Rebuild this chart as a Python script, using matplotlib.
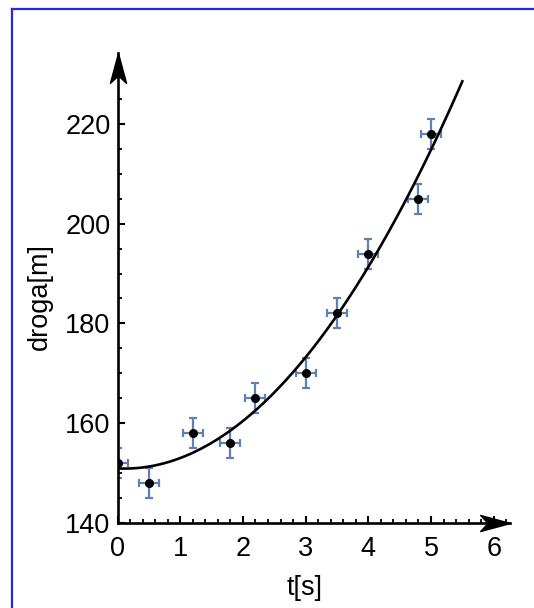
import numpy as np
import matplotlib
matplotlib.use("Agg")
import matplotlib.pyplot as plt
from matplotlib.path import Path
from matplotlib.lines import Line2D
from matplotlib.ticker import MultipleLocator

plt.rcParams['font.family'] = ['Liberation Sans', 'DejaVu Sans']

# measured points
t = [0.0, 0.5, 1.2, 1.8, 2.2, 3.0, 3.5, 4.0, 4.8, 5.0]
droga = [152, 148, 158, 156, 165, 170, 182, 194, 205, 218]
t_err = 0.16
droga_err = 3.0

x_ticks = [0, 1, 2, 3, 4, 5, 6]
y_ticks = [140, 160, 180, 200, 220]

err_color = (94/255, 129/255, 181/255)
border_color = (40/255, 40/255, 225/255)

# quadratic fit, like Fit[data, {1, t, t^2}, t]
coef = np.polyfit(t, droga, 2)
t_fit = np.linspace(0, 5.5, 200)
s_fit = np.polyval(coef, t_fit)

fig = plt.figure(figsize=(5.34, 6.08), dpi=100)
ax = fig.add_axes([117.5/534, 85/608, (510-117.5)/534, (555-85)/608])

ax.plot(t_fit, s_fit, color='black', lw=1.9, zorder=3)
ax.errorbar(t, droga, xerr=t_err, yerr=droga_err, fmt='none', ecolor=err_color,
            elinewidth=1.6, capsize=3, capthick=1.6, zorder=2)
ax.plot(t, droga, 'o', color='black', markersize=5.5, zorder=4)

ax.set_xlim(0, 6.26)
ax.set_ylim(140, 234.2)

for side in ['top', 'right']:
    ax.spines[side].set_visible(False)
for side in ['left', 'bottom']:
    ax.spines[side].set_linewidth(1.9)

ax.set_xticks(x_ticks)
ax.set_yticks(y_ticks)
ax.xaxis.set_minor_locator(MultipleLocator(0.2))
ax.yaxis.set_minor_locator(MultipleLocator(5))
ax.tick_params(axis='both', which='major', direction='in', length=5, width=1.5,
               labelsize=19.5)
ax.tick_params(axis='both', which='minor', direction='in', length=3, width=1.3)
ax.tick_params(axis='x', which='major', pad=9)
ax.tick_params(axis='y', which='major', pad=5)

# arrow heads at the ends of the axes
head_right = Path([(0, 0), (-1, 0.27), (-0.75, 0), (-1, -0.27), (0, 0)],
                  [Path.MOVETO, Path.LINETO, Path.LINETO, Path.LINETO, Path.CLOSEPOLY])
head_up = Path([(0, 0), (0.27, -1), (0, -0.75), (-0.27, -1), (0, 0)],
               [Path.MOVETO, Path.LINETO, Path.LINETO, Path.LINETO, Path.CLOSEPOLY])
ax.plot(1, 0, marker=head_right, markersize=43, color='black',
        transform=ax.transAxes, clip_on=False)
ax.plot(0, 1, marker=head_up, markersize=43, color='black',
        transform=ax.transAxes, clip_on=False)

ax.set_xlabel("t[s]", fontsize=19.5, va='center')
ax.xaxis.set_label_coords(0.478, -0.138)
ax.set_ylabel("droga[m]", fontsize=19.5, va='center')
ax.yaxis.set_label_coords(-0.198, 0.481)

# blue frame round the picture
fig.add_artist(Line2D([12/534, 12/534], [0, 1 - 9/608], color=border_color, lw=1.6))
fig.add_artist(Line2D([12/534, 1], [1 - 9/608, 1 - 9/608], color=border_color, lw=1.6))

fig.savefig("out.png", dpi=100)
